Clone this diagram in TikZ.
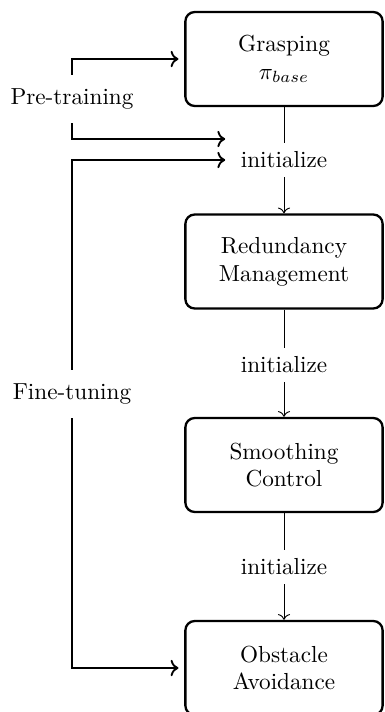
\documentclass[tikz,border=0pt]{standalone}
\usetikzlibrary{arrows.meta}
\begin{document}
\begin{tikzpicture}[x=0.431pt,y=-0.431pt,
  stage/.style={draw, line width=1pt, rounded corners=4pt,
    minimum width=85pt, minimum height=40.5pt, align=center},
  phase/.style={minimum height=20.6pt, inner xsep=2pt},
  initlabel/.style={inner sep=3.8pt},
  flow/.style={line width=0.4pt, -{To}},
  link/.style={line width=0.4pt},
  feed/.style={line width=0.8pt, -{To}, shorten >=2.5pt}]
\useasboundingbox (0,0) rectangle (385,712);

% training stages
\node[stage] (grasp)  at (284,59)    {Grasping\\$\pi_{base}$};
\node[stage] (redund) at (284,261.5) {Redundancy\\Management};
\node[stage] (smooth) at (284,465)   {Smoothing\\Control};
\node[stage] (obst)   at (284,668)   {Obstacle\\Avoidance};

% initialisation labels between stages
\node[initlabel] (init1) at (284,160) {initialize};
\node[initlabel] (init2) at (284,365) {initialize};
\node[initlabel] (init3) at (284,567) {initialize};

% phase labels
\node[phase] (pre)  at (72,99)  {Pre-training};
\node[phase] (fine) at (72,394) {Fine-tuning};

% entry points beside the first initialisation
\coordinate (preIn)  at (231,139);
\coordinate (fineIn) at (231,160);

% stage-to-stage chain
\draw[link] (grasp) -- (init1);
\draw[flow] (init1) -- (redund);
\draw[link] (redund) -- (init2);
\draw[flow] (init2) -- (smooth);
\draw[link] (smooth) -- (init3);
\draw[flow] (init3) -- (obst);

% pre-training arrows
\draw[feed] (pre.north) |- (grasp.west);
\draw[feed] (pre.south) |- (preIn);

% fine-tuning arrows
\draw[feed] (fine.north) |- (fineIn);
\draw[feed] (fine.south) |- (obst.west);
\end{tikzpicture}
\end{document}
